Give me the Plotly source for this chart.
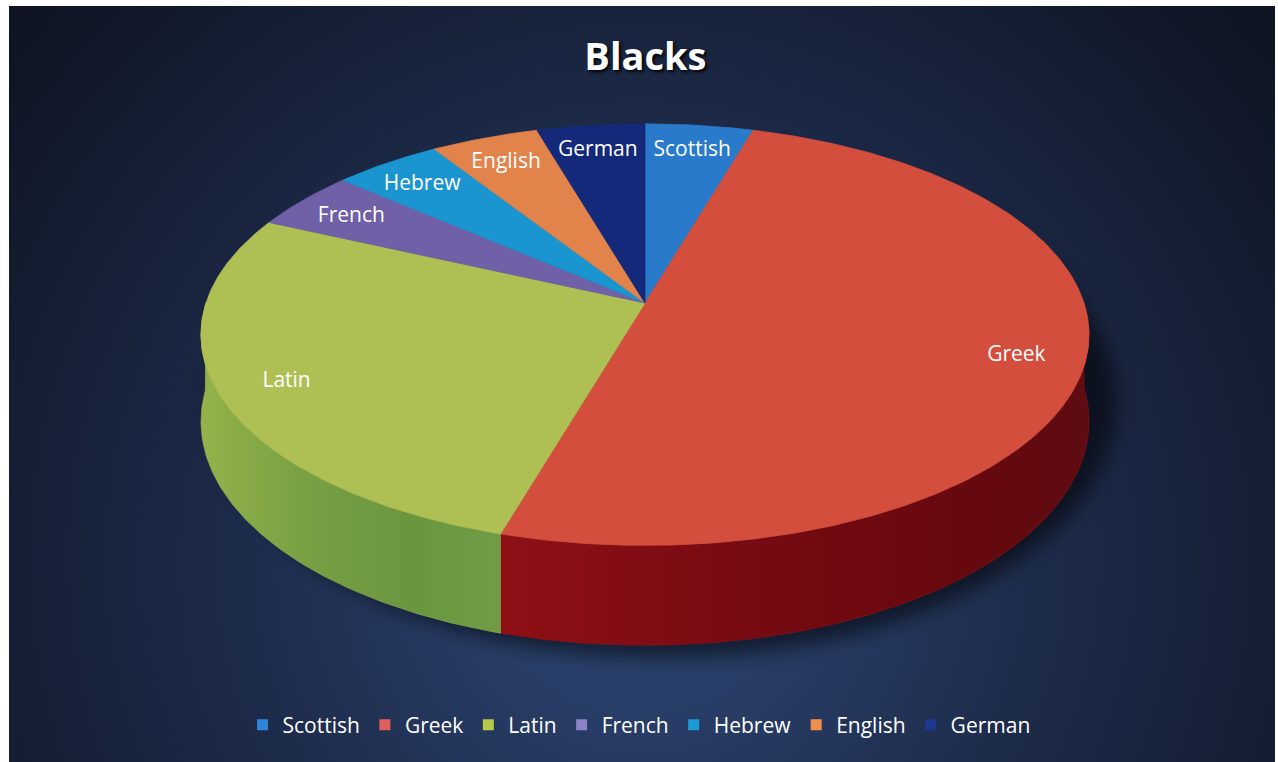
import base64
import numpy as np
import plotly.graph_objects as go

# ---- data -------------------------------------------------------------
categories = ["Scottish", "Greek", "Latin", "French", "Hebrew", "English", "German"]
values = [1, 11, 6, 1, 1, 1, 1]

top_colors = ["#2a7acb", "#d44e3d", "#aebf53", "#6f60a8", "#1a95cf", "#e2834b", "#14297a"]
legend_colors = ["#2f84d6", "#e0605a", "#b7c946", "#8a83c6", "#1b9bd8", "#ee8f4c", "#1c3a92"]
side_scales = [
    [[0, "#1d5a9a"], [1, "#154a82"]],
    [[0, "#8e1016"], [0.45, "#760a12"], [0.8, "#66080f"], [1, "#5e0c12"]],
    [[0, "#93b24a"], [0.35, "#78a043"], [0.7, "#6a9640"], [1, "#6f9c45"]],
    [[0, "#52468a"], [1, "#463a78"]],
    [[0, "#137aa8"], [1, "#0f6a92"]],
    [[0, "#b8633a"], [1, "#a05430"]],
    [[0, "#0e1f5c"], [1, "#0b194c"]],
]

# ---- 3-D pie geometry (pixel space) -----------------------------------
W, H_FIG = 1278, 762
CX, CY = 645, 303        # apex of the top face
RX, RY = 439, 206        # horizontal / vertical radii
PERSP = 0.15             # perspective strength (front larger than back)
DEPTH = 85               # thickness of the disc
LABEL_R = 0.85

def project(theta_deg, r=1.0):
    th = np.radians(theta_deg)
    f = 1.0 / (1.0 + PERSP * r * np.cos(th))
    x = CX + RX * r * np.sin(th) * f
    y = CY - RY * r * np.cos(th) * f
    return x, y, f

def arc(a, b):
    n = max(6, int(abs(b - a) * 1.5))
    return np.linspace(a, b, n)

total = sum(values)
bounds = np.concatenate([[0], np.cumsum(values) / total * 360.0])

fig = go.Figure()

# side walls (only the front half of the disc is visible)
for i, name in enumerate(categories):
    a, b = max(bounds[i], 90.0), min(bounds[i + 1], 270.0)
    if b <= a:
        continue
    t = arc(a, b)
    xt, yt, f = project(t)
    yb = yt + DEPTH * f
    xs = np.concatenate([xt, xt[::-1], xt[:1]])
    ys = np.concatenate([yt, yb[::-1], yt[:1]])
    fig.add_trace(go.Scatter(
        x=xs, y=ys, mode="lines", fill="toself",
        line=dict(width=0.6, color=side_scales[i][0][1]),
        fillgradient=dict(type="horizontal", colorscale=side_scales[i]),
        hoverinfo="skip", showlegend=False,
    ))

# top faces
for i, name in enumerate(categories):
    t = arc(bounds[i], bounds[i + 1])
    xt, yt, _ = project(t)
    xs = np.concatenate([[CX], xt, [CX]])
    ys = np.concatenate([[CY], yt, [CY]])
    fig.add_trace(go.Scatter(
        x=xs, y=ys, mode="lines", fill="toself",
        fillcolor=top_colors[i], line=dict(width=0.8, color=top_colors[i]),
        name=name, hoverinfo="name", showlegend=False,
    ))

# slice labels
mids = (bounds[:-1] + bounds[1:]) / 2
lx, ly, _ = project(mids, LABEL_R)
fig.add_trace(go.Scatter(
    x=lx, y=ly + 2, mode="text", text=categories, textposition="middle center",
    textfont=dict(family="Open Sans", size=21, color="white"),
    hoverinfo="skip", showlegend=False,
))

# legend entries
for i, name in enumerate(categories):
    fig.add_trace(go.Scatter(
        x=[None], y=[None], mode="markers", name=name,
        marker=dict(symbol="square", size=11, color=legend_colors[i]),
        hoverinfo="skip",
    ))

# ---- background -------------------------------------------------------
svg = f'''<svg xmlns="http://www.w3.org/2000/svg" width="{W}" height="{H_FIG}" viewBox="0 0 {W} {H_FIG}">
<defs>
<radialGradient id="g" cx="640" cy="560" r="820" gradientUnits="userSpaceOnUse">
<stop offset="0" stop-color="#2f4878"/>
<stop offset="0.5" stop-color="#1d2b4a"/>
<stop offset="1" stop-color="#0e1422"/>
</radialGradient>
<filter id="b" x="-20%" y="-20%" width="140%" height="140%"><feGaussianBlur stdDeviation="10"/></filter>
</defs>
<rect width="{W}" height="{H_FIG}" fill="#ffffff"/>
<rect x="9" y="6" width="1266" height="756" fill="url(#g)"/>
<ellipse cx="664" cy="402" rx="452" ry="256" fill="#000000" opacity="0.55" filter="url(#b)"/>
</svg>'''
bg_uri = "data:image/svg+xml;base64," + base64.b64encode(svg.encode()).decode()

fig.update_layout(
    width=W, height=H_FIG,
    margin=dict(l=0, r=0, t=0, b=0),
    paper_bgcolor="white", plot_bgcolor="rgba(0,0,0,0)",
    images=[dict(source=bg_uri, xref="paper", yref="paper", x=0, y=1,
                 sizex=1, sizey=1, xanchor="left", yanchor="top",
                 sizing="stretch", layer="below")],
    xaxis=dict(range=[0, W], visible=False, fixedrange=True),
    yaxis=dict(range=[H_FIG, 0], visible=False, fixedrange=True),
    title=dict(text="<b>Blacks</b>", x=0.505, xanchor="center", y=1 - 57 / H_FIG,
               yanchor="middle",
               font=dict(family="Open Sans", size=38, color="white",
                         shadow="2px 2px 3px rgba(0,0,0,0.9)")),
    legend=dict(orientation="h", x=0.5, xanchor="center", y=1 - 725 / H_FIG,
                yanchor="middle", bgcolor="rgba(0,0,0,0)",
                font=dict(family="Open Sans", size=21, color="white"),
                itemclick=False, itemdoubleclick=False),
    showlegend=True,
)

fig.write_html("out.html")
